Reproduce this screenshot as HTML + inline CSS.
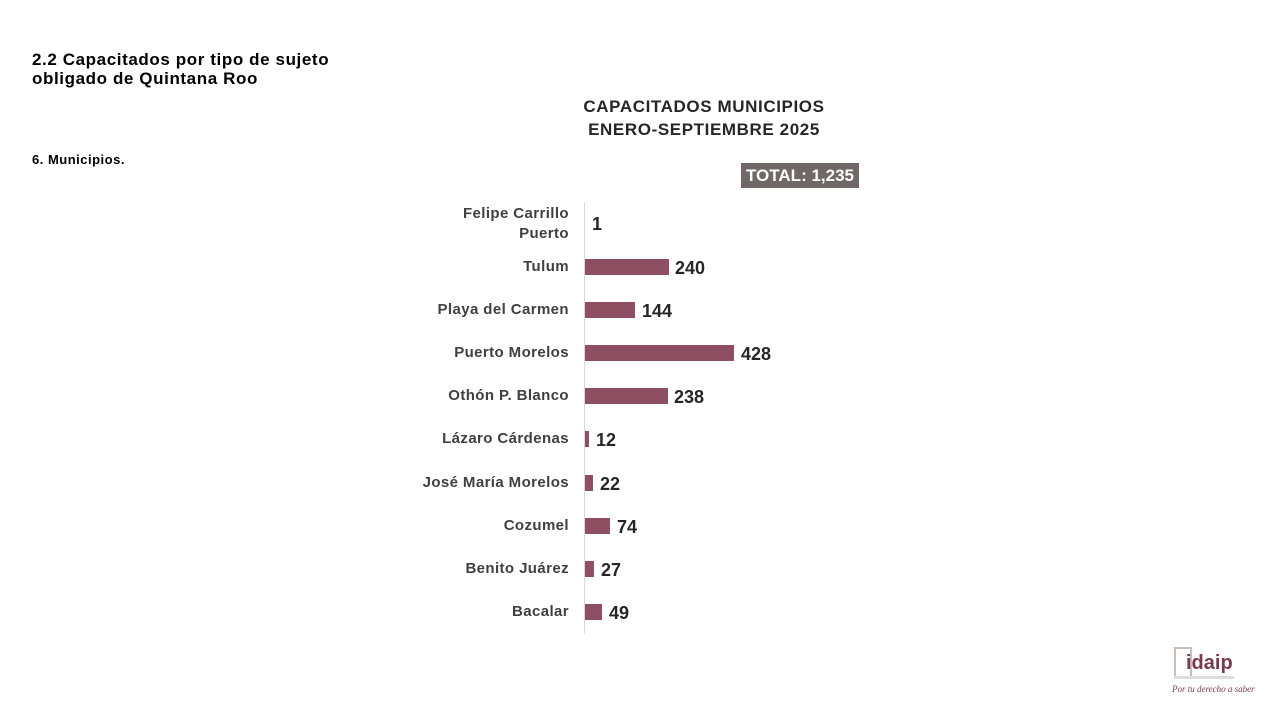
<!DOCTYPE html>
<html><head><meta charset="utf-8"><style>
body{margin:0;width:1280px;height:720px;background:#fff;position:relative;overflow:hidden;font-family:"Liberation Sans",sans-serif;color:#262626}
.a{position:absolute;white-space:nowrap}
.lab{position:absolute;right:711px;font-size:15px;font-weight:bold;color:#404040;text-align:right;line-height:20px;letter-spacing:0.4px}
.bar{position:absolute;left:585px;height:16px;background:#8e4f63}
.val{position:absolute;font-size:18px;font-weight:bold;color:#262626;line-height:20px}
</style></head><body>
<div class="a" style="left:32px;top:50px;font-size:17px;font-weight:bold;line-height:19px;color:#000;letter-spacing:0.6px">2.2 Capacitados por tipo de sujeto<br>obligado de Quintana Roo</div>
<div class="a" style="left:32px;top:152px;font-size:13px;font-weight:bold;color:#000;letter-spacing:0.5px">6. Municipios.</div>
<div class="a" style="left:554px;width:300px;top:95px;text-align:center;font-size:17px;font-weight:bold;line-height:23px;color:#262626;letter-spacing:0.6px">CAPACITADOS MUNICIPIOS<br>ENERO-SEPTIEMBRE 2025</div>
<div class="a" style="left:741px;top:163px;width:118px;height:25px;background:#6f6866;color:#fff;font-size:17px;font-weight:bold;text-align:center;line-height:26px">TOTAL: 1,235</div>
<div class="a" style="left:584px;top:202px;width:1px;height:432px;background:#d9d9d9"></div>

<div class="lab" style="top:204px">Felipe Carrillo<br>Puerto</div>
<div class="val" style="left:592px;top:214px">1</div>

<div class="lab" style="top:257px">Tulum</div>
<div class="bar" style="top:259px;width:84px"></div><div class="val" style="left:675px;top:258px">240</div>

<div class="lab" style="top:300px">Playa del Carmen</div>
<div class="bar" style="top:302px;width:50px"></div><div class="val" style="left:642px;top:301px">144</div>

<div class="lab" style="top:343px">Puerto Morelos</div>
<div class="bar" style="top:345px;width:149px"></div><div class="val" style="left:741px;top:344px">428</div>

<div class="lab" style="top:386px">Othón P. Blanco</div>
<div class="bar" style="top:388px;width:83px"></div><div class="val" style="left:674px;top:387px">238</div>

<div class="lab" style="top:429px">Lázaro Cárdenas</div>
<div class="bar" style="top:431px;width:4px"></div><div class="val" style="left:596px;top:430px">12</div>

<div class="lab" style="top:473px">José María Morelos</div>
<div class="bar" style="top:475px;width:8px"></div><div class="val" style="left:600px;top:474px">22</div>

<div class="lab" style="top:516px">Cozumel</div>
<div class="bar" style="top:518px;width:25px"></div><div class="val" style="left:617px;top:517px">74</div>

<div class="lab" style="top:559px">Benito Juárez</div>
<div class="bar" style="top:561px;width:9px"></div><div class="val" style="left:601px;top:560px">27</div>

<div class="lab" style="top:602px">Bacalar</div>
<div class="bar" style="top:604px;width:17px"></div><div class="val" style="left:609px;top:603px">49</div>

<div class="a" style="left:1174px;top:647px;width:14px;height:28px;border:2px solid #c8bfb8;border-bottom:none"></div>
<div class="a" style="left:1186px;top:652px;font-size:20px;font-weight:bold;color:#7a3a4e">idaip</div>
<div class="a" style="left:1174px;top:676px;width:60px;height:3px;background:#ddd"></div>
<div class="a" style="left:1172px;top:684px;font-size:9px;font-style:italic;color:#7a3a4e;font-family:'Liberation Serif',serif">Por tu derecho a saber</div>
</body></html>
